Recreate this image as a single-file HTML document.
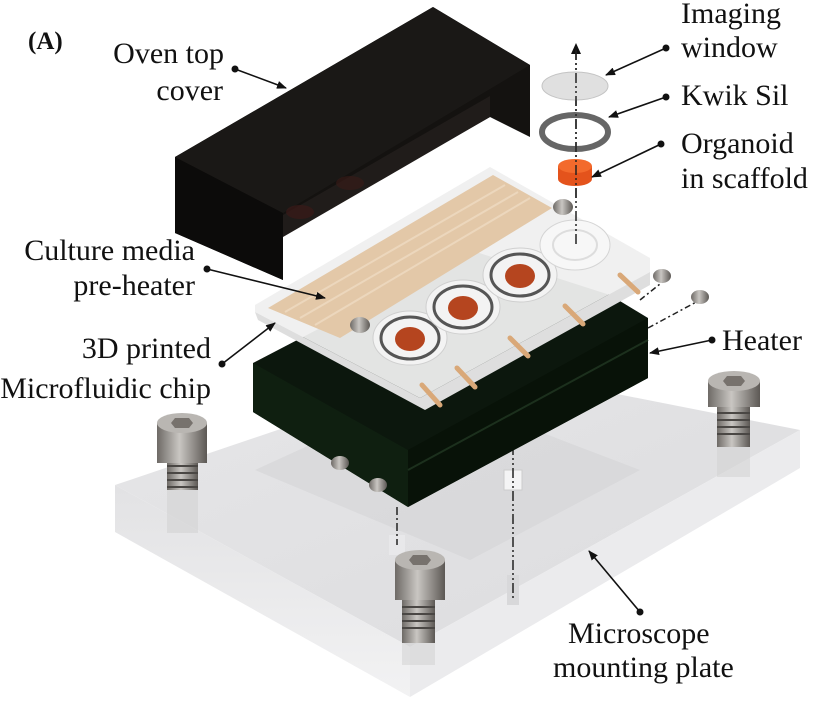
<!DOCTYPE html>
<html><head><meta charset="utf-8"><style>
html,body{margin:0;padding:0;background:#fff;}
svg{display:block;}
text{font-family:"Liberation Serif",serif;fill:#111;}
</style></head><body>
<svg width="828" height="701" viewBox="0 0 828 701" xmlns="http://www.w3.org/2000/svg">
<defs>
<marker id="ah" markerWidth="10" markerHeight="8" refX="9" refY="4" orient="auto" markerUnits="userSpaceOnUse">
<path d="M0,0 L10,4 L0,8 z" fill="#111"/></marker>
<linearGradient id="bolt" x1="0" x2="1" y1="0" y2="0">
<stop offset="0" stop-color="#6e6a66"/><stop offset="0.45" stop-color="#c9c6c2"/><stop offset="1" stop-color="#5c5854"/></linearGradient>
<linearGradient id="plateTop" x1="0" x2="1" y1="0" y2="1">
<stop offset="0" stop-color="#e6e6e8"/><stop offset="1" stop-color="#dcdcde"/></linearGradient>
<linearGradient id="plateFront" x1="0" x2="0" y1="0" y2="1">
<stop offset="0" stop-color="#e2e2e4"/><stop offset="1" stop-color="#f2f2f3"/></linearGradient>
</defs>

<!-- Mounting plate -->
<polygon points="115,485 470,365 800,430 410,647" fill="url(#plateTop)"/>
<polygon points="115,485 410,647 410,697 115,532" fill="url(#plateFront)"/>
<polygon points="410,647 800,430 800,468 410,697" fill="#ebebed"/>
<polygon points="255,470 470,560 640,470 430,390" fill="#d2d2d4" opacity="0.5"/>
<rect x="0" y="697" width="828" height="4" fill="#fff"/>

<!-- Bolts -->
<g>
<rect x="167" y="463" width="31" height="70" fill="#cfcfd0" opacity="0.5"/>
<rect x="167" y="455" width="31" height="35" fill="url(#bolt)"/>
<g stroke="#4a4744" stroke-width="2"><line x1="167" y1="466" x2="198" y2="466"/><line x1="167" y1="473" x2="198" y2="473"/><line x1="167" y1="480" x2="198" y2="480"/><line x1="167" y1="487" x2="198" y2="487"/></g>
<rect x="157" y="423" width="50" height="40" fill="url(#bolt)"/>
<ellipse cx="182" cy="423" rx="25" ry="10" fill="#b9b6b2"/>
<polygon points="175,418 189,418 193,423 189,428 175,428 171,423" fill="#77726d"/>
</g>
<g>
<rect x="717" y="400" width="33" height="77" fill="#cfcfd0" opacity="0.5"/>
<rect x="717" y="400" width="33" height="47" fill="url(#bolt)"/>
<g stroke="#4a4744" stroke-width="2"><line x1="717" y1="413" x2="750" y2="413"/><line x1="717" y1="420" x2="750" y2="420"/><line x1="717" y1="427" x2="750" y2="427"/><line x1="717" y1="434" x2="750" y2="434"/></g>
<rect x="708" y="381" width="52" height="26" fill="url(#bolt)"/>
<ellipse cx="734" cy="381" rx="26" ry="10" fill="#b9b6b2"/>
<polygon points="727,376 741,376 745,381 741,386 727,386 723,381" fill="#77726d"/>
</g>

<!-- ghost pins and axes through plate -->
<rect x="504" y="470" width="18" height="20" fill="#f4f4f5" stroke="#ccc"/>
<rect x="507" y="575" width="12" height="30" fill="#d8d8da"/>
<rect x="389" y="535" width="16" height="20" fill="#e8e8ea"/>
<line x1="513" y1="445" x2="513" y2="600" stroke="#222" stroke-width="1.5" stroke-dasharray="10,3,2,3,2,3"/>
<line x1="397" y1="507" x2="397" y2="545" stroke="#222" stroke-width="1.5" stroke-dasharray="8,3,2,3"/>

<!-- Front bolt -->
<g>
<rect x="402" y="590" width="33" height="75" fill="#cfcfd0" opacity="0.5"/>
<rect x="402" y="590" width="33" height="53" fill="url(#bolt)"/>
<g stroke="#4a4744" stroke-width="2"><line x1="402" y1="607" x2="435" y2="607"/><line x1="402" y1="614" x2="435" y2="614"/><line x1="402" y1="621" x2="435" y2="621"/><line x1="402" y1="628" x2="435" y2="628"/></g>
<rect x="395" y="560" width="50" height="40" fill="url(#bolt)"/>
<ellipse cx="420" cy="560" rx="25" ry="10" fill="#b9b6b2"/>
<polygon points="413,555 427,555 431,560 427,565 413,565 409,560" fill="#77726d"/>
</g>

<!-- Heater -->
<polygon points="253,363 470,250 610,295 648,318 648,378 408,507 253,412" fill="#0c170d"/>
<polygon points="253,363 408,450 408,507 253,412" fill="#0f1f10"/>
<polygon points="408,450 648,318 648,378 408,507" fill="#081208"/>
<line x1="408" y1="470" x2="648" y2="340" stroke="#1c301d" stroke-width="2"/>
<ellipse cx="340" cy="463" rx="9" ry="7" fill="url(#bolt)"/>
<ellipse cx="378" cy="485" rx="9" ry="7" fill="url(#bolt)"/>
<line x1="640" y1="300" x2="665" y2="280" stroke="#222" stroke-width="1.5" stroke-dasharray="6,3,2,3"/>
<line x1="648" y1="328" x2="700" y2="300" stroke="#222" stroke-width="1.5" stroke-dasharray="6,3,2,3"/>
<ellipse cx="662" cy="276" rx="9" ry="7" fill="url(#bolt)"/>
<ellipse cx="700" cy="297" rx="9" ry="7" fill="url(#bolt)"/>

<!-- Chip plate -->
<polygon points="255,305 490,167 650,258 650,272 420,398 255,312" fill="#efefef" opacity="0.95"/>
<polygon points="255,312 420,398 650,272 650,285 425,410 258,320" fill="#dedede"/>
<polygon points="268,308 493,175 552,208 340,338" fill="#e3c8a8"/>
<g stroke="#ecd7bd" stroke-width="2"><line x1="285" y1="312" x2="505" y2="185"/><line x1="300" y1="318" x2="518" y2="192"/><line x1="315" y1="325" x2="530" y2="198"/></g>
<g stroke="#d9a878" stroke-width="5" stroke-linecap="round">
<line x1="422" y1="385" x2="440" y2="405"/>
<line x1="457" y1="368" x2="475" y2="387"/>
<line x1="510" y1="338" x2="528" y2="356"/>
<line x1="565" y1="306" x2="583" y2="324"/>
<line x1="620" y1="275" x2="638" y2="292"/>
</g>
<g>
<ellipse cx="410" cy="338" rx="37" ry="27" fill="#f3f3f3" stroke="#cfcfcf"/>
<ellipse cx="410" cy="338" rx="29" ry="21" fill="none" stroke="#555" stroke-width="3"/>
<ellipse cx="410" cy="339" rx="15" ry="12" fill="#b5451f"/>
<ellipse cx="463" cy="307" rx="37" ry="27" fill="#f3f3f3" stroke="#cfcfcf"/>
<ellipse cx="463" cy="307" rx="29" ry="21" fill="none" stroke="#555" stroke-width="3"/>
<ellipse cx="463" cy="308" rx="15" ry="12" fill="#b5451f"/>
<ellipse cx="520" cy="275" rx="37" ry="27" fill="#f3f3f3" stroke="#cfcfcf"/>
<ellipse cx="520" cy="275" rx="29" ry="21" fill="none" stroke="#555" stroke-width="3"/>
<ellipse cx="520" cy="276" rx="15" ry="12" fill="#b5451f"/>
<ellipse cx="575" cy="245" rx="35" ry="25" fill="#f7f7f7" stroke="#d5d5d5"/>
<ellipse cx="575" cy="245" rx="22" ry="15" fill="none" stroke="#ddd" stroke-width="2"/>
</g>
<ellipse cx="360" cy="325" rx="10" ry="8" fill="url(#bolt)"/>
<ellipse cx="563" cy="207" rx="10" ry="8" fill="url(#bolt)"/>

<!-- Oven cover -->
<polygon points="175,157 433,7 530,65 530,137 490,117 283,235 283,280 175,233" fill="#141210"/>
<polygon points="175,157 283,213 283,280 175,233" fill="#0c0b0a"/>
<polygon points="175,157 433,7 530,65 283,213" fill="#1a1816"/>
<polygon points="283,215 490,96 490,117 283,237" fill="#201c1a"/>
<ellipse cx="300" cy="212" rx="14" ry="7" fill="#3a1a18" opacity="0.7"/>
<ellipse cx="350" cy="183" rx="14" ry="7" fill="#3a1a18" opacity="0.6"/>

<!-- Axis & small parts -->
<line x1="576" y1="50" x2="576" y2="245" stroke="#222" stroke-width="1.5" stroke-dasharray="10,3,2,3,2,3"/>
<path d="M571,54 L576,43 L581,54 z" fill="#111"/>
<ellipse cx="575" cy="86" rx="33" ry="14" fill="#e0e0e0" stroke="#c4c4c4"/>
<ellipse cx="575" cy="132" rx="33" ry="17" fill="none" stroke="#666" stroke-width="6"/>
<path d="M558,166 L558,179 A17,7 0 0 0 592,179 L592,166 z" fill="#e4531c"/>
<ellipse cx="575" cy="166" rx="17" ry="7" fill="#f36a2c"/>
<line x1="576" y1="50" x2="576" y2="200" stroke="#222" stroke-width="1.5" stroke-dasharray="10,3,2,3,2,3"/>

<!-- Labels -->
<text x="28" y="49" font-size="25" font-weight="bold">(A)</text>
<g font-size="30">
<text x="224" y="63" text-anchor="end">Oven top</text>
<text x="223" y="100" text-anchor="end">cover</text>
<text x="195" y="260" text-anchor="end">Culture media</text>
<text x="195" y="295" text-anchor="end">pre-heater</text>
<text x="211" y="358" text-anchor="end">3D printed</text>
<text x="211" y="398" text-anchor="end">Microfluidic chip</text>
<text x="681" y="23">Imaging</text>
<text x="681" y="57">window</text>
<text x="681" y="105">Kwik Sil</text>
<text x="681" y="153">Organoid</text>
<text x="681" y="188">in scaffold</text>
<text x="722" y="350">Heater</text>
<text x="568" y="643">Microscope</text>
<text x="553" y="677">mounting plate</text>
</g>

<!-- Connectors -->
<g stroke="#111" stroke-width="1.6" fill="none" marker-end="url(#ah)">
<line x1="235" y1="69" x2="286" y2="88"/>
<line x1="207" y1="269" x2="325" y2="298"/>
<line x1="222" y1="364" x2="275" y2="323"/>
<line x1="666" y1="48" x2="606" y2="75"/>
<line x1="666" y1="97" x2="609" y2="117"/>
<line x1="661" y1="144" x2="592" y2="177"/>
<line x1="712" y1="340" x2="650" y2="353"/>
<line x1="640" y1="612" x2="589" y2="551"/>
</g>
<g fill="#111">
<circle cx="235" cy="69" r="3.5"/><circle cx="207" cy="269" r="3.5"/><circle cx="222" cy="364" r="3.5"/>
<circle cx="666" cy="48" r="3.5"/><circle cx="666" cy="97" r="3.5"/><circle cx="661" cy="144" r="3.5"/>
<circle cx="712" cy="340" r="3.5"/><circle cx="640" cy="612" r="3.5"/>
</g>
</svg>
</body></html>
